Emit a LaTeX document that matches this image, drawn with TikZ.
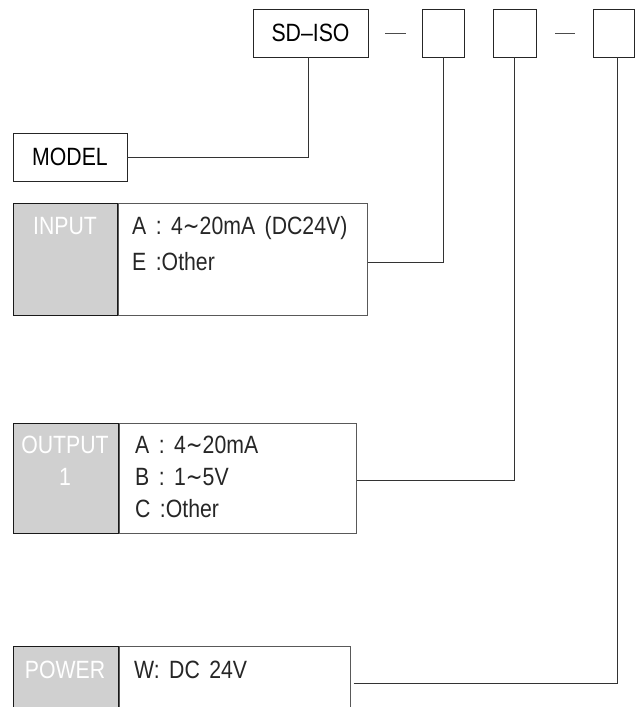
\documentclass[tikz,border=0pt]{standalone}
\usepackage{fontspec}
\setmainfont{Liberation Sans}[FakeStretch=0.85, WordSpace=1.6]
\newfontfamily\wavefont{DejaVu Sans}[FakeStretch=0.8]
\newcommand{\wave}{{\wavefont\char"223C}}
\usetikzlibrary{positioning}
\definecolor{cellgrey}{RGB}{208,208,208}

\tikzset{
    codebox/.style={draw=black!85, line width=0.8pt, minimum height=48pt, inner sep=0pt, font=\fontsize{25}{30}\selectfont},
    keycell/.style={draw=black!90, fill=cellgrey, line width=0.8pt, anchor=north west, inner sep=0pt},
    valcell/.style={draw=black!65, line width=0.8pt, anchor=north west, inner sep=0pt},
    tagtext/.style={text=white, anchor=base, inner sep=0pt, font=\fontsize{25}{30}\selectfont},
    opttext/.style={text=black!85, anchor=base west, inner sep=0pt, font=\fontsize{25}{30}\selectfont},
    link/.style={draw=black!80, line width=0.8pt},
}

\begin{document}
\begin{tikzpicture}[x=1pt, y=-1pt]
    \useasboundingbox (0,0) rectangle (636,707);

    % code boxes
    \node[codebox, minimum width=115pt] (sdiso) at (310.5,33) {SD--ISO};
    \node[codebox, minimum width=42pt] (code1) at (443,33) {};
    \node[codebox, minimum width=43pt] (code2) at (514.5,33) {};
    \node[codebox, minimum width=41pt] (code3) at (613.5,33) {};
    \draw[black!70, line width=0.8pt] (385,33) -- (406,33);
    \draw[black!70, line width=0.8pt] (555,33) -- (575,33);

    \node[codebox, minimum width=114pt] (model) at (70,157) {MODEL};

    % input
    \node[keycell, minimum width=104pt, minimum height=112pt] (inkey) at (13,203) {};
    \node[valcell, minimum width=249pt, minimum height=112pt] (inval) at (inkey.north east) {};
    \node[tagtext] (intag) at (65,234) {INPUT};
    \node[opttext] (inA) at (132,234) {A : 4\wave 20mA (DC24V)};
    \node[opttext] (inE) at (132,270) {E :Other};

    % output
    \node[keycell, minimum width=105pt, minimum height=110pt] (outkey) at (13,423) {};
    \node[valcell, minimum width=237pt, minimum height=110pt] (outval) at (outkey.north east) {};
    \node[tagtext] (outtag) at (65,453) {OUTPUT};
    \node[tagtext] (outnum) at (65,485) {1};
    \node[opttext] (outA) at (135,453) {A : 4\wave 20mA};
    \node[opttext] (outB) at (135,485) {B : 1\wave 5V};
    \node[opttext] (outC) at (135,517) {C :Other};

    % power
    \node[keycell, minimum width=105pt, minimum height=72pt] (pwkey) at (13,646) {};
    \node[valcell, minimum width=231pt, minimum height=72pt] (pwval) at (pwkey.north east) {};
    \node[tagtext] (pwtag) at (65,678) {POWER};
    \node[opttext] (pwW) at (134,678) {W: DC 24V};

    \draw[link] (model.east) -| ([xshift=-2.5pt]sdiso.south);
    \draw[link] ([yshift=-3pt]inval.east) -| (code1.south);
    \draw[link] ([yshift=-2pt]outval.east) -| (code2.south);
    \draw[link] ([xshift=3pt, yshift=-1pt]pwval.east) -| ([xshift=3.5pt]code3.south);
\end{tikzpicture}
\end{document}
